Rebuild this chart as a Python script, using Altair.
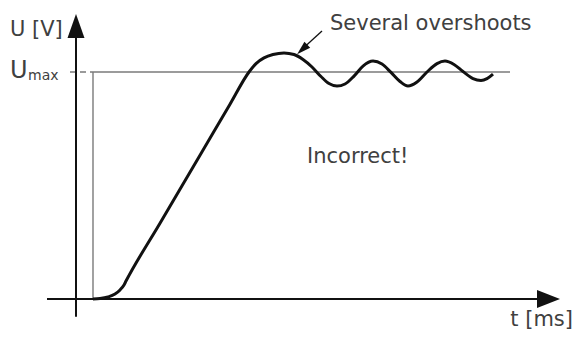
import altair as alt
import pandas as pd

# ---- data (t in ms, U relative to Umax) ----
t_curve = [0.0, 0.175, 0.375, 0.55, 0.675, 0.775, 0.825, 1.675, 2.675, 3.425, 3.9,
           4.075, 4.275, 4.5, 4.775, 5.025, 5.25, 5.475, 5.7, 5.9, 6.1, 6.3, 6.525,
           6.75, 7.0, 7.225, 7.45, 7.675, 7.875, 8.1, 8.35, 8.6, 8.8, 9.025, 9.25,
           9.5, 9.7, 9.85, 10.0]
u_curve = [0.0, 0.002, 0.009, 0.022, 0.040, 0.062, 0.079, 0.334, 0.633, 0.858, 1.0,
           1.037, 1.062, 1.077, 1.084, 1.077, 1.055, 1.022, 0.980, 0.949, 0.938, 0.947, 0.982,
           1.026, 1.048, 1.035, 0.998, 0.958, 0.938, 0.956, 1.0, 1.037, 1.048, 1.033, 1.002,
           0.971, 0.963, 0.971, 0.991]

U_MAX = 1.0
T_DOM = [-2.125, 12.025]
U_DOM = [-0.13656, 1.2819]

# axis lines
axis_t = [-1.15, -0.425]
axis_t2 = [11.1, -0.425]
axis_u = [0.0, -0.078]
axis_u2 = [0.0, 1.15]

# guide lines (Umax level and step start)
guide_t = [0.0, 0.0]
guide_t2 = [10.425, 0.0]
guide_u = [U_MAX, 0.0]
guide_u2 = [U_MAX, U_MAX]

dash_t, dash_t2 = [-0.575], [0.0]

# annotation arrow
ann_t, ann_t2 = [5.725], [5.225]
ann_u, ann_u2 = [1.1806], [1.10]

# arrowheads
head_t = [11.3875, -0.425, 5.23]
head_u = [0.0, 1.2026, 1.0988]
head_shape = ["M-1,-0.78L1,0L-1,0.78Z", "M0,-1L0.708,1L-0.708,1Z", "M0,-1L0.6,1L-0.6,1Z"]
head_size = [529, 576, 196]
head_angle = [0, 0, 227]

# texts
lab_text = ["U [V]", "U", "max", "Several overshoots", "Incorrect!"]
lab_t = [-2.075, -2.075, -1.625, 5.925, 5.35]
lab_u = [1.1564, 0.9714, 0.9626, 1.1828, 0.5991]
lab_fs = [21, 24, 14, 21, 21]

xlab_text = ["t [ms]"]
xlab_t = [12.0]
xlab_u = [-0.1189]

FONT = "DejaVu Sans"
TXT = "#404040"

xs = alt.Scale(domain=T_DOM, nice=False, zero=False)
ys = alt.Scale(domain=U_DOM, nice=False, zero=False)
X = lambda f: alt.X(f, type="quantitative", scale=xs, axis=None)
Y = lambda f: alt.Y(f, type="quantitative", scale=ys, axis=None)

guides = alt.Chart(pd.DataFrame({"t": guide_t, "t2": guide_t2, "u": guide_u, "u2": guide_u2})).mark_rule(
    color="#7a7a7a", strokeWidth=1.4).encode(x=X("t"), x2="t2", y=Y("u"), y2="u2")

dash = alt.Chart(pd.DataFrame({"t": dash_t, "t2": dash_t2, "u": [U_MAX]})).mark_rule(
    color="#7a7a7a", strokeWidth=1.4, strokeDash=[6, 4]).encode(x=X("t"), x2="t2", y=Y("u"))

axes = alt.Chart(pd.DataFrame({"t": axis_t, "t2": axis_t2, "u": axis_u, "u2": axis_u2})).mark_rule(
    color="#111111", strokeWidth=2).encode(x=X("t"), x2="t2", y=Y("u"), y2="u2")

curve = alt.Chart(pd.DataFrame({"t": t_curve, "u": u_curve})).mark_line(
    color="#111111", strokeWidth=3, interpolate="monotone").encode(x=X("t"), y=Y("u"))

ann = alt.Chart(pd.DataFrame({"t": ann_t, "t2": ann_t2, "u": ann_u, "u2": ann_u2})).mark_rule(
    color="#111111", strokeWidth=1.3).encode(x=X("t"), x2="t2", y=Y("u"), y2="u2")

heads = []
for t, u, s, sz, a in zip(head_t, head_u, head_shape, head_size, head_angle):
    heads.append(alt.Chart(pd.DataFrame({"t": [t], "u": [u]})).mark_point(
        shape=s, size=sz, angle=a, filled=True, color="#111111", opacity=1, strokeWidth=0
    ).encode(x=X("t"), y=Y("u")))

labels = alt.Chart(pd.DataFrame({"t": lab_t, "u": lab_u, "label": lab_text, "fs": lab_fs})).mark_text(
    align="left", baseline="alphabetic", font=FONT, color=TXT).encode(
    x=X("t"), y=Y("u"), text="label:N", size=alt.Size("fs:Q", scale=None, legend=None))

xlab = alt.Chart(pd.DataFrame({"t": xlab_t, "u": xlab_u, "label": xlab_text})).mark_text(
    align="right", baseline="alphabetic", font=FONT, color=TXT, fontSize=21).encode(
    x=X("t"), y=Y("u"), text="label:N")

chart = alt.layer(guides, dash, axes, curve, ann, *heads, labels, xlab).properties(
    width=566, height=322, autosize=alt.AutoSizeParams(type="none"), padding=0,
    background="white"
).configure_view(stroke=None)

chart.save("out.html", embed_options={"renderer": "svg", "actions": False})
